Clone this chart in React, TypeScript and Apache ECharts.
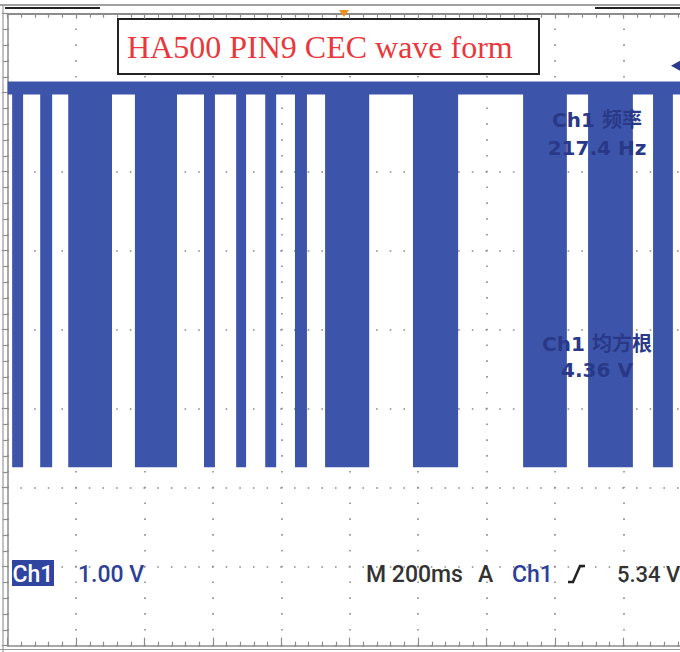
import React, { useEffect, useRef } from "react";
import * as echarts from "echarts";

const TIME_MAX_MS = 2000; // 10 divisions x 200 ms
const TIME_DIV_MS = 200;
const VOLT_MIN = -2; // ground marker 2 div below centre
const VOLT_MAX = 6;
const VOLT_DIV = 1;
// bursts of the CEC trace (start / end, ms)
const BURST_START = [13, 95, 177, 372, 574, 668, 753, 840, 928, 1185, 1507, 1697, 1887];
const BURST_END = [45, 130, 305, 495, 606, 697, 785, 875, 1057, 1317, 1635, 1828, 1945];
const HIGH_V = 5.06;
const LOW_V = 0.26;
const TRIGGER_V = 5.34;

const TITLE = "HA500 PIN9 CEC wave form";
const MEAS_LABELS = ["Ch1 频率", "217.4 Hz", "Ch1 均方根", "4.36 V"];
const READOUTS = { ch: "Ch1", scale: "1.00 V", time: "M 200ms", src: "A", trigCh: "Ch1", trigLevel: "5.34 V" };

const BLUE = "#3c55aa";
const TEXT_BLUE = "#2c3f99";
const MEAS_BLUE = "#2a3888";
const GRID_DOT = "#8a8a8a";
const AXIS_GRAY = "#8c8c8c";
const SANS = "'DejaVu Sans', 'Noto Sans CJK SC', sans-serif";
const READ_FONT = "500 23px Roboto, 'DejaVu Sans', sans-serif";

export default function App() {
  const ref = useRef<HTMLDivElement>(null);

  useEffect(() => {
    if (!ref.current) return;
    const chart = echarts.init(ref.current, undefined, { renderer: "svg" });

    const GRID_W = 684;
    const GRID_H = 632;
    const hGap = GRID_W / 50; // minor spacing horizontally
    const vGap = GRID_H / 40; // minor spacing vertically

    const option: any = {
      animation: false,
      backgroundColor: "#ffffff",
      grid: { left: 7.7, top: 13.7, width: GRID_W, height: GRID_H, containLabel: false, outerBoundsMode: "none" },
      xAxis: [
        {
          type: "value",
          min: 0,
          max: TIME_MAX_MS,
          interval: TIME_DIV_MS,
          position: "bottom",
          axisLine: { show: true, onZero: false, lineStyle: { color: AXIS_GRAY, width: 1.5 } },
          axisTick: { show: true, inside: true, length: 8, lineStyle: { color: AXIS_GRAY, width: 1.2 } },
          minorTick: { show: true, splitNumber: 5, length: 4, lineStyle: { color: AXIS_GRAY, width: 1.2 } },
          axisLabel: { show: false },
          splitLine: {
            show: true,
            lineStyle: { color: GRID_DOT, width: 1.6, type: [1.6, vGap - 1.6], dashOffset: 0.8 },
          },
        },
        {
          type: "value",
          min: 0,
          max: TIME_MAX_MS,
          interval: TIME_DIV_MS,
          position: "top",
          axisLine: { show: true, onZero: false, lineStyle: { color: AXIS_GRAY, width: 2 } },
          axisTick: { show: true, inside: true, length: 5, lineStyle: { color: AXIS_GRAY, width: 1.2 } },
          minorTick: { show: true, splitNumber: 5, length: 4, lineStyle: { color: AXIS_GRAY, width: 1.2 } },
          axisLabel: { show: false },
          splitLine: { show: false },
        },
      ],
      yAxis: [
        {
          type: "value",
          min: VOLT_MIN,
          max: VOLT_MAX,
          interval: VOLT_DIV,
          position: "left",
          axisLine: { show: true, onZero: false, lineStyle: { color: AXIS_GRAY, width: 1.5 } },
          axisTick: { show: true, inside: false, length: 6, lineStyle: { color: AXIS_GRAY, width: 1.2 } },
          minorTick: { show: true, splitNumber: 5, length: 5, lineStyle: { color: AXIS_GRAY, width: 1.2 } },
          axisLabel: { show: false },
          splitLine: {
            show: true,
            lineStyle: { color: GRID_DOT, width: 1.6, type: [1.6, hGap - 1.6], dashOffset: 0.8 },
          },
        },
      ],
      series: [
        {
          type: "custom",
          name: "bursts",
          xAxisIndex: 0,
          yAxisIndex: 0,
          dimensions: ["start", "end"],
          encode: { x: [0, 1] },
          data: BURST_START.map((s, i) => [s, BURST_END[i]]),
          renderItem: (params: any, api: any) => {
            const p1 = api.coord([api.value(0), HIGH_V]);
            const p2 = api.coord([api.value(1), LOW_V]);
            return {
              type: "rect",
              shape: { x: p1[0], y: p1[1], width: p2[0] - p1[0], height: p2[1] - p1[1] },
              style: { fill: BLUE },
            };
          },
          z: 3,
        },
        {
          type: "line",
          name: "high",
          xAxisIndex: 0,
          yAxisIndex: 0,
          data: [
            [0, HIGH_V],
            [TIME_MAX_MS, HIGH_V],
          ],
          symbol: "none",
          lineStyle: { color: BLUE, width: 13 },
          z: 4,
        },
      ],
    };
    chart.setOption(option);

    const trigY = chart.convertToPixel({ yAxisIndex: 0 }, TRIGGER_V) as number;

    const readY = 574;
    chart.setOption({
      graphic: [
        // scope frame details
        { type: "line", z: 50, shape: { x1: 0, y1: 5, x2: 680, y2: 5 }, style: { stroke: "#444", lineWidth: 1.2 } },
        { type: "line", z: 50, shape: { x1: 5, y1: 8, x2: 100, y2: 8 }, style: { stroke: "#222", lineWidth: 2 } },
        { type: "line", z: 50, shape: { x1: 595, y1: 8, x2: 680, y2: 8 }, style: { stroke: "#222", lineWidth: 2 } },
        { type: "line", z: 50, shape: { x1: 3, y1: 5, x2: 3, y2: 652 }, style: { stroke: "#9a9a9a", lineWidth: 1.2 } },
        { type: "line", z: 50, shape: { x1: 0, y1: 649.5, x2: 680, y2: 649.5 }, style: { stroke: "#9a9a9a", lineWidth: 1.2 } },
        // trigger position marker (orange) and trigger level marker
        {
          type: "polygon",
          z: 60,
          shape: { points: [[339, 10], [349, 10], [344, 17]] },
          style: { fill: "#f0901e" },
        },
        {
          type: "polygon",
          z: 60,
          shape: { points: [[671, trigY], [680, trigY - 5], [680, trigY + 5]] },
          style: { fill: "#2b3a8e" },
        },
        // title box
        {
          type: "group",
          z: 70,
          children: [
            {
              type: "rect",
              shape: { x: 118, y: 19, width: 421, height: 55 },
              style: { fill: "#ffffff", stroke: "#222", lineWidth: 2 },
            },
            {
              type: "text",
              x: 127,
              y: 47,
              style: {
                text: TITLE,
                fill: "#e8383d",
                font: "32px 'Liberation Serif', 'DejaVu Serif', serif",
                textAlign: "left",
                textVerticalAlign: "middle",
              },
            },
          ],
        },
        // measurements
        ...MEAS_LABELS.map((t, i) => ({
          type: "text",
          z: 70,
          x: 597,
          y: [120, 148, 344, 370][i],
          style: {
            text: t,
            fill: MEAS_BLUE,
            font: `bold 20px ${SANS}`,
            textAlign: "center",
            textVerticalAlign: "middle",
          },
        })),
        // bottom readouts
        {
          type: "rect",
          z: 70,
          shape: { x: 12, y: 560, width: 42, height: 26 },
          style: { fill: "#2f45a0" },
        },
        {
          type: "text",
          z: 71,
          x: 33,
          y: readY,
          style: { text: READOUTS.ch, fill: "#ffffff", font: READ_FONT, textAlign: "center", textVerticalAlign: "middle" },
        },
        {
          type: "text",
          z: 71,
          x: 78,
          y: readY,
          style: { text: READOUTS.scale, fill: TEXT_BLUE, font: READ_FONT, textAlign: "left", textVerticalAlign: "middle" },
        },
        {
          type: "text",
          z: 71,
          x: 366,
          y: readY,
          style: { text: READOUTS.time, fill: "#333333", font: READ_FONT, textAlign: "left", textVerticalAlign: "middle" },
        },
        {
          type: "text",
          z: 71,
          x: 478,
          y: readY,
          style: { text: READOUTS.src, fill: "#333333", font: READ_FONT, textAlign: "left", textVerticalAlign: "middle" },
        },
        {
          type: "text",
          z: 71,
          x: 512,
          y: readY,
          style: { text: READOUTS.trigCh, fill: TEXT_BLUE, font: READ_FONT, textAlign: "left", textVerticalAlign: "middle" },
        },
        {
          type: "polyline",
          z: 71,
          shape: { points: [[568, 582], [573, 582], [580, 566], [585, 566]] },
          style: { stroke: "#222", lineWidth: 2.5, fill: null },
        },
        {
          type: "text",
          z: 71,
          x: 617,
          y: readY,
          style: {
            text: READOUTS.trigLevel,
            fill: "#333333",
            font: "500 22px Roboto, 'DejaVu Sans', sans-serif",
            textAlign: "left",
            textVerticalAlign: "middle",
          },
        },
      ],
    });

    return () => chart.dispose();
  }, []);

  return (
    <div
      style={{
        position: "absolute",
        left: 0,
        top: 0,
        width: 680,
        height: 652,
        overflow: "hidden",
        background: "#fff",
      }}
    >
      <div ref={ref} style={{ width: 700, height: 652 }} />
    </div>
  );
}
